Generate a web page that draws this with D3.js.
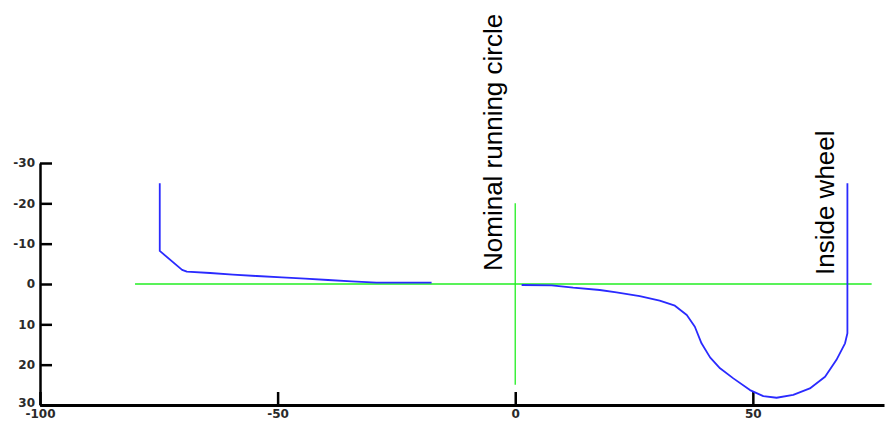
<!DOCTYPE html>
<html>
<head>
<meta charset="utf-8">
<script src="https://cdn.jsdelivr.net/npm/d3@7"></script>
<style>
  html, body { margin: 0; padding: 0; background: #fff; }
  svg { display: block; }
</style>
</head>
<body>
<svg id="chart" width="893" height="423"></svg>
<script>
// ---- data ----
const xTicks = [-100, -50, 0, 50];
const yTicks = [-30, -20, -10, 0, 10, 20, 30];

// left part of the profile (flange back side)
const leftX = [-74.8, -74.8, -70.1, -69.1, -64.2, -59.4, -54.4, -49.1, -44.2, -39.4, -34.4, -29.2, -17.6];
const leftY = [-25.0, -8.2, -3.5, -3.05, -2.73, -2.3, -1.98, -1.66, -1.31, -0.99, -0.67, -0.32, -0.32];

// right part of the profile (tread + flange)
const rightX = [1.35, 7.66, 12.2, 17.8, 21.3, 26.2, 30.4, 33.6, 36.1, 37.8, 39.2, 41.0, 43.1, 45.9, 49.4, 52.2, 55.0, 58.5, 62.0, 65.2, 67.6, 69.4, 69.9, 69.9];
const rightY = [0.25, 0.32, 0.92, 1.49, 2.06, 2.98, 4.14, 5.38, 7.69, 10.6, 14.7, 18.2, 20.9, 23.4, 26.3, 27.8, 28.2, 27.5, 25.9, 23.0, 18.8, 14.7, 12.2, -25.0];

// reference lines
const hLineX = [-80, 75];     // y = 0
const vLineY = [-20, 25];     // x = 0

// annotations
const labels = [
  { text: "Nominal running circle", x: 0, y: 0 },
  { text: "Inside wheel", x: 69.9, y: 0 }
];

// ---- scales ----
const svg = d3.select("#chart");
const x = d3.scaleLinear().domain([-100, 77.6]).range([40, 884]);
const y = d3.scaleLinear().domain([-30, 30]).range([163, 405]);

// ---- axes ----
const yAxis = d3.axisLeft(y).tickValues(yTicks).tickSizeInner(-12).tickSizeOuter(0)
  .tickPadding(5).tickFormat(d => String(d));
const gy = svg.append("g").attr("transform", `translate(${x(-100)},0)`).call(yAxis);
gy.select(".domain").attr("stroke", "#000").attr("stroke-width", 2.5);
gy.selectAll(".tick line").attr("stroke", "#000").attr("stroke-width", 2.5);
gy.selectAll(".tick text").attr("fill", "#2a2a2a")
  .style("font-family", "DejaVu Sans").style("font-size", "12px").style("font-weight", "bold");
gy.selectAll(".tick text").filter(d => d === 30).attr("dy", "0.1em");

const xAxis = d3.axisBottom(x).tickValues(xTicks).tickSizeInner(-13).tickSizeOuter(0)
  .tickPadding(4).tickFormat(d => String(d));
const gx = svg.append("g").attr("transform", `translate(0,${y(30)})`).call(xAxis);
gx.select(".domain").attr("stroke", "#000").attr("stroke-width", 3);
gx.selectAll(".tick line").attr("stroke", "#000").attr("stroke-width", 2.5);
gx.selectAll(".tick text").attr("fill", "#2a2a2a")
  .style("font-family", "DejaVu Sans").style("font-size", "12px").style("font-weight", "bold");

// ---- reference lines ----
svg.append("line")
  .attr("x1", x(hLineX[0])).attr("x2", x(hLineX[1]))
  .attr("y1", y(0)).attr("y2", y(0))
  .attr("stroke", "#22ee22").attr("stroke-width", 1.6);
svg.append("line")
  .attr("x1", x(0)).attr("x2", x(0))
  .attr("y1", y(vLineY[0])).attr("y2", y(vLineY[1]))
  .attr("stroke", "#22ee22").attr("stroke-width", 1.3);

// ---- profile ----
const line = d3.line().x(d => x(d[0])).y(d => y(d[1]));
const leftPts = leftX.map((v, i) => [v, leftY[i]]);
const rightPts = rightX.map((v, i) => [v, rightY[i]]);
[leftPts, rightPts].forEach(pts => {
  svg.append("path").datum(pts).attr("d", line)
    .attr("fill", "none").attr("stroke", "#2a2aff").attr("stroke-width", 1.8)
    .attr("stroke-linejoin", "round");
});

// ---- annotations ----
const labelOffsets = [[-13, -13], [-13, -9]];
labels.forEach((l, i) => {
  const px = x(l.x) + labelOffsets[i][0];
  const py = y(l.y) + labelOffsets[i][1];
  svg.append("text")
    .attr("transform", `translate(${px},${py}) rotate(-90)`)
    .attr("text-anchor", "start")
    .style("font-family", "Liberation Sans, Arial, sans-serif")
    .style("font-size", "26px")
    .attr("fill", "#000")
    .text(l.text);
});
</script>
</body>
</html>
